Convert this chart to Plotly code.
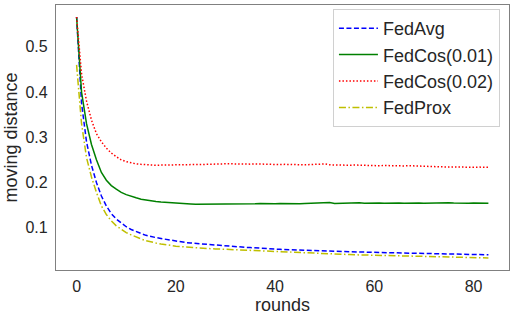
import plotly.graph_objects as go

rounds = list(range(84))

fedavg = [0.566, 0.375, 0.290, 0.238, 0.200, 0.170, 0.148, 0.131, 0.119, 0.110,
          0.102, 0.096, 0.091, 0.087, 0.083, 0.080, 0.078, 0.076, 0.074, 0.072,
          0.070, 0.069, 0.067, 0.066, 0.065, 0.064, 0.063, 0.062, 0.061, 0.060,
          0.059, 0.0585, 0.058, 0.057, 0.0565, 0.056, 0.055, 0.054, 0.0535, 0.053,
          0.0525, 0.052, 0.0515, 0.051, 0.0505, 0.050, 0.0498, 0.0495, 0.049, 0.0487,
          0.0483, 0.048, 0.0478, 0.0475, 0.047, 0.0467, 0.0463, 0.046, 0.0457, 0.0453,
          0.045, 0.0448, 0.0446, 0.0444, 0.0442, 0.044, 0.0438, 0.0436, 0.0434, 0.0432,
          0.043, 0.0428, 0.0426, 0.0424, 0.042, 0.0416, 0.0414, 0.0412, 0.041, 0.0408,
          0.0405, 0.0403, 0.0401, 0.040]

fedcos001 = [0.566, 0.400, 0.330, 0.284, 0.250, 0.222, 0.205, 0.193, 0.185, 0.178,
             0.173, 0.169, 0.166, 0.163, 0.161, 0.159, 0.158, 0.157, 0.156, 0.155,
             0.154, 0.1535, 0.153, 0.1525, 0.152, 0.152, 0.1518, 0.1515, 0.152, 0.1518,
             0.152, 0.1525, 0.152, 0.1528, 0.153, 0.1525, 0.153, 0.1535, 0.153, 0.1532,
             0.153, 0.1535, 0.153, 0.1538, 0.1535, 0.153, 0.1535, 0.154, 0.1535, 0.154,
             0.155, 0.1555, 0.1535, 0.154, 0.1545, 0.154, 0.1545, 0.155, 0.154, 0.1545,
             0.155, 0.1545, 0.154, 0.1545, 0.155, 0.1545, 0.154, 0.1545, 0.155, 0.1545,
             0.154, 0.1545, 0.1538, 0.154, 0.1545, 0.155, 0.1545, 0.154, 0.1545, 0.154,
             0.1545, 0.154, 0.1545, 0.154]

fedcos002 = [0.566, 0.440, 0.380, 0.338, 0.308, 0.290, 0.276, 0.265, 0.257, 0.250,
             0.246, 0.243, 0.241, 0.240, 0.239, 0.2385, 0.238, 0.2385, 0.238, 0.2385,
             0.239, 0.2385, 0.239, 0.2395, 0.239, 0.2395, 0.240, 0.2405, 0.241, 0.2415,
             0.242, 0.2415, 0.241, 0.2405, 0.241, 0.2405, 0.241, 0.2405, 0.240, 0.2405,
             0.240, 0.2395, 0.240, 0.2395, 0.239, 0.2395, 0.239, 0.2395, 0.240, 0.2405,
             0.241, 0.239, 0.2385, 0.239, 0.2385, 0.238, 0.2385, 0.238, 0.2375, 0.238,
             0.2375, 0.237, 0.2375, 0.237, 0.2375, 0.237, 0.2365, 0.237, 0.2365, 0.236,
             0.2365, 0.236, 0.2355, 0.235, 0.2345, 0.234, 0.2345, 0.234, 0.2345, 0.234,
             0.2335, 0.234, 0.2335, 0.2335]

fedprox = [0.460, 0.330, 0.255, 0.212, 0.178, 0.148, 0.129, 0.115, 0.104, 0.096,
           0.089, 0.084, 0.079, 0.075, 0.071, 0.068, 0.066, 0.064, 0.062, 0.060,
           0.059, 0.058, 0.057, 0.056, 0.055, 0.0545, 0.054, 0.0535, 0.053, 0.0525,
           0.052, 0.0515, 0.051, 0.0505, 0.050, 0.0495, 0.049, 0.048, 0.0475, 0.047,
           0.0465, 0.046, 0.0455, 0.045, 0.0447, 0.0444, 0.044, 0.0436, 0.0432, 0.0428,
           0.0424, 0.042, 0.0416, 0.0412, 0.0408, 0.0404, 0.040, 0.0397, 0.0394, 0.039,
           0.0387, 0.0384, 0.0381, 0.0378, 0.0375, 0.0372, 0.037, 0.0368, 0.0366, 0.0364,
           0.0362, 0.036, 0.0357, 0.0354, 0.035, 0.0347, 0.0345, 0.0343, 0.0341, 0.0339,
           0.0337, 0.0335, 0.0333, 0.033]

series_names = ["FedAvg", "FedCos(0.01)", "FedCos(0.02)", "FedProx"]
x_ticks = [0, 20, 40, 60, 80]
y_ticks = [0.1, 0.2, 0.3, 0.4, 0.5]

styles = [
    dict(color="#0000ff", dash="5px,2.5px"),
    dict(color="#008000", dash="solid"),
    dict(color="#ff0000", dash="1.5px,2px"),
    dict(color="#bfbf00", dash="7px,2.5px,1.5px,2.5px"),
]

fig = go.Figure()
for name, ys, st in zip(series_names, [fedavg, fedcos001, fedcos002, fedprox], styles):
    fig.add_trace(go.Scatter(x=rounds, y=ys, mode="lines", name=name,
                             line=dict(color=st["color"], dash=st["dash"], width=1.5)))

font_family = "Liberation Sans, Arial, sans-serif"
text_color = "#262626"

fig.update_layout(
    width=515, height=318,
    margin=dict(l=56, r=6, t=5, b=48, autoexpand=False),
    paper_bgcolor="white", plot_bgcolor="white",
    font=dict(family=font_family, size=18, color=text_color),
    showlegend=True,
    legend=dict(x=0.98, y=0.985, xanchor="right", yanchor="top",
                bgcolor="white", bordercolor="#d0d0d0", borderwidth=1,
                font=dict(size=18, color=text_color),
                tracegroupgap=0, itemwidth=39),
)
fig.update_xaxes(range=[-4.15, 87.15], tickvals=x_ticks, ticktext=[str(v) for v in x_ticks],
                 showgrid=False, zeroline=False, showline=True, mirror=True,
                 linecolor="#808080", linewidth=1.25, ticks="", automargin=False,
                 tickfont=dict(size=16, color=text_color), ticklabelstandoff=2,
                 title=dict(text="rounds", font=dict(size=18, color=text_color), standoff=0))
fig.update_yaxes(range=[0.0063, 0.5926], tickvals=y_ticks, ticktext=[f"{v:.1f}" for v in y_ticks],
                 showgrid=False, zeroline=False, showline=True, mirror=True,
                 linecolor="#808080", linewidth=1.25, ticks="", automargin=False,
                 tickfont=dict(size=16, color=text_color), ticklabelstandoff=4,
                 title=dict(text="moving distance", font=dict(size=18, color=text_color), standoff=3))

fig.write_html("out.html", config={"displayModeBar": False},
               post_script="document.body.style.margin='0';document.body.style.overflow='hidden';")
